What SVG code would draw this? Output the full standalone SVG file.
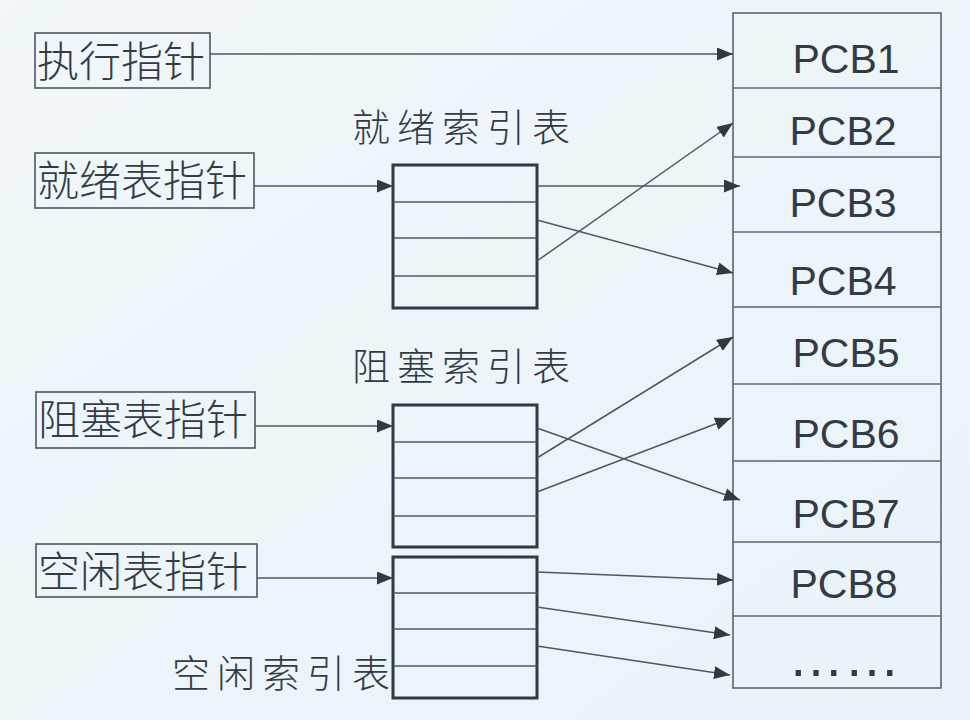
<svg xmlns="http://www.w3.org/2000/svg" width="970" height="720" viewBox="0 0 970 720">
<defs>
<linearGradient id="bg" x1="0" y1="0" x2="1" y2="1">
<stop offset="0" stop-color="#f1f7fb"/>
<stop offset="1" stop-color="#e9f3f8"/>
</linearGradient>
<marker id="ah" markerUnits="userSpaceOnUse" markerWidth="17" markerHeight="13" refX="16" refY="6.5" orient="auto">
<path d="M0,0 L16,6.5 L0,13 Z" fill="#2f3a44"/>
</marker>
<style>
.cjk{font-family:"Noto Sans CJK SC","Noto Sans CJK JP",sans-serif;fill:#333c45;font-weight:300}
.ptr{font-size:42px}
.lbl{font-size:38px;letter-spacing:7px}
.pcb{font-family:"Liberation Sans",Arial,sans-serif;font-size:41px;fill:#333c45;text-anchor:middle}
.dots{font-family:"Liberation Sans",Arial,sans-serif;font-size:56px;fill:#333c45}
.box{fill:none;stroke:#4d5860;stroke-width:1.6}
.tbl{fill:none;stroke:#2f3a44;stroke-width:3}
.row{stroke:#4d5860;stroke-width:1.4}
.pline{stroke:#5a6670;stroke-width:1.6;fill:none}
.conn{stroke:#4d5860;stroke-width:1.5;fill:none;marker-end:url(#ah)}
</style>
</defs>
<rect width="970" height="720" fill="url(#bg)"/>

<g id="pcb-table">
<rect class="pline" x="733" y="13" width="208" height="675"/>
<line class="pline" x1="733" y1="88" x2="941" y2="88"/>
<line class="pline" x1="733" y1="157" x2="941" y2="157"/>
<line class="pline" x1="733" y1="232" x2="941" y2="232"/>
<line class="pline" x1="733" y1="307" x2="941" y2="307"/>
<line class="pline" x1="733" y1="384" x2="941" y2="384"/>
<line class="pline" x1="733" y1="461" x2="941" y2="461"/>
<line class="pline" x1="733" y1="542" x2="941" y2="542"/>
<line class="pline" x1="733" y1="616" x2="941" y2="616"/>
<text class="pcb" x="846" y="73">PCB1</text>
<text class="pcb" x="843" y="145">PCB2</text>
<text class="pcb" x="843" y="217">PCB3</text>
<text class="pcb" x="843" y="295">PCB4</text>
<text class="pcb" x="846" y="367">PCB5</text>
<text class="pcb" x="846" y="448">PCB6</text>
<text class="pcb" x="846" y="528">PCB7</text>
<text class="pcb" x="844" y="598">PCB8</text>
<text class="dots" x="788" y="676">……</text>
</g>

<g id="exec-ptr">
<rect class="box" x="35" y="33" width="175" height="55"/>
<text class="cjk ptr" x="37" y="77">执行指针</text>
</g>

<g id="ready-ptr">
<rect class="box" x="35" y="153" width="219" height="55"/>
<text class="cjk ptr" x="37" y="196">就绪表指针</text>
</g>

<g id="block-ptr">
<rect class="box" x="36" y="392" width="219" height="56"/>
<text class="cjk ptr" x="38" y="435">阻塞表指针</text>
</g>

<g id="free-ptr">
<rect class="box" x="36" y="544" width="221" height="53"/>
<text class="cjk ptr" x="38" y="587">空闲表指针</text>
</g>

<g id="ready-index">
<text class="cjk lbl" x="352" y="141">就绪索引表</text>
<rect class="tbl" x="393" y="165" width="144" height="143"/>
<line class="row" x1="393" y1="202" x2="537" y2="202"/>
<line class="row" x1="393" y1="238" x2="537" y2="238"/>
<line class="row" x1="393" y1="276" x2="537" y2="276"/>
</g>

<g id="block-index">
<text class="cjk lbl" x="352" y="380">阻塞索引表</text>
<rect class="tbl" x="393" y="405" width="144" height="142"/>
<line class="row" x1="393" y1="442" x2="537" y2="442"/>
<line class="row" x1="393" y1="478" x2="537" y2="478"/>
<line class="row" x1="393" y1="516" x2="537" y2="516"/>
</g>

<g id="free-index">
<text class="cjk lbl" x="172" y="687">空闲索引表</text>
<rect class="tbl" x="393" y="557" width="144" height="141"/>
<line class="row" x1="393" y1="593" x2="537" y2="593"/>
<line class="row" x1="393" y1="629" x2="537" y2="629"/>
<line class="row" x1="393" y1="666" x2="537" y2="666"/>
</g>

<g id="connectors">
<line class="conn" x1="210" y1="54" x2="733" y2="54"/>
<line class="conn" x1="254" y1="186" x2="393" y2="186"/>
<line class="conn" x1="255" y1="426" x2="393" y2="426"/>
<line class="conn" x1="257" y1="578" x2="393" y2="578"/>
<line class="conn" x1="537" y1="186" x2="740" y2="186"/>
<line class="conn" x1="537" y1="220" x2="733" y2="273"/>
<line class="conn" x1="537" y1="261" x2="733" y2="123"/>
<line class="conn" x1="537" y1="428" x2="740" y2="500"/>
<line class="conn" x1="537" y1="458" x2="733" y2="337"/>
<line class="conn" x1="537" y1="492" x2="731" y2="418"/>
<line class="conn" x1="537" y1="572" x2="733" y2="580"/>
<line class="conn" x1="537" y1="607" x2="730" y2="635"/>
<line class="conn" x1="537" y1="646" x2="730" y2="675"/>
</g>
</svg>
